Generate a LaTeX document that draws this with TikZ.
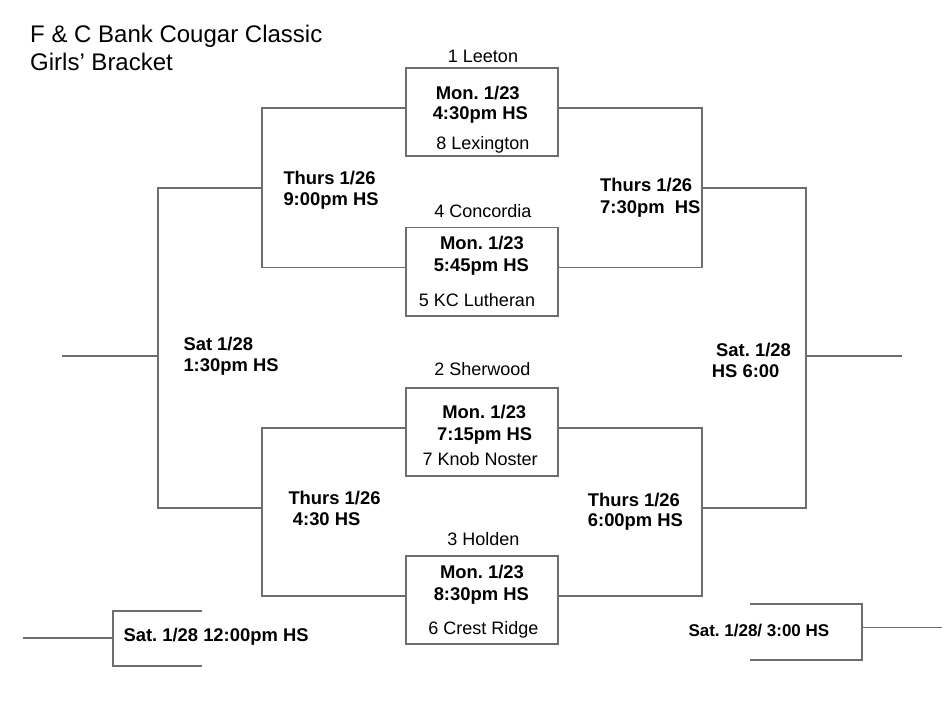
\documentclass[tikz,border=0pt]{standalone}
\usepackage{fontspec}
\setmainfont{Liberation Sans}
\frenchspacing
\begin{document}
\begin{tikzpicture}[x=1pt,y=-1pt,
                    bracket/.style={draw=black!57,line width=1.6pt},
                    game node/.style={rectangle,draw=black!57,line width=1.6pt,minimum width=152pt,minimum height=88pt,inner sep=0pt},
                    team node/.style={anchor=base,inner sep=0pt,font=\fontsize{18}{21}\selectfont},
                    time node/.style={anchor=base,inner sep=0pt,font=\fontsize{18.4}{22}\selectfont\bfseries},
                    round node/.style={anchor=base west,inner sep=0pt,font=\fontsize{18.4}{22}\selectfont\bfseries}
                   ]
  \useasboundingbox (0,0) rectangle (952,708);
  % title
  \node[anchor=base west,inner sep=0pt,font=\fontsize{24}{28}\selectfont] (title1) at (30,42.7) {F \& C Bank Cougar Classic};
  \node[anchor=base west,inner sep=0pt,font=\fontsize{24}{28}\selectfont] (title2) at (30,71) {Girls’ Bracket};
  % first round games
  \node[game node] (g1) at (481.7,112.2) {};
  \node[game node] (g2) at (481.7,271.7) {};
  \node[game node] (g3) at (481.7,431.7) {};
  \node[game node] (g4) at (481.7,599.8) {};
  \node[team node] (t1) at (483,62.3) {1 Leeton};
  \node[time node] (d1) at (477.8,100) {Mon. 1/23};
  \node[time node] (h1) at (480.3,120) {4:30pm HS};
  \node[team node] (t8) at (482.8,150) {8 Lexington};
  \node[team node] (t4) at (483,217.7) {4 Concordia};
  \node[time node] (d2) at (482,250) {Mon. 1/23};
  \node[time node] (h2) at (481.3,271.7) {5:45pm HS};
  \node[team node] (t5) at (477,306) {5 KC Lutheran};
  \node[team node] (t2) at (482.5,375) {2 Sherwood};
  \node[time node] (d3) at (484.3,418.3) {Mon. 1/23};
  \node[time node] (h3) at (484.7,440.7) {7:15pm HS};
  \node[team node] (t7) at (480.2,465.7) {7 Knob Noster};
  \node[team node] (t3) at (483.3,545.7) {3 Holden};
  \node[time node] (d4) at (482,578.3) {Mon. 1/23};
  \node[time node] (h4) at (481.3,600) {8:30pm HS};
  \node[team node] (t6) at (483.3,634) {6 Crest Ridge};
  % bracket joints
  \coordinate (s1) at (262,188);
  \coordinate (s2) at (262,508);
  \coordinate (s3) at (702,188);
  \coordinate (s4) at (702,508);
  \coordinate (f1) at (158,355.7);
  \coordinate (f2) at (806,355.7);
  \coordinate (w1) at (62,355.7);
  \coordinate (w2) at (902,355.7);
  \coordinate (c1) at (113,638);
  \coordinate (c1t) at (202,611);
  \coordinate (c1b) at (202,666);
  \coordinate (c1o) at (23,638);
  \coordinate (c2) at (862,627.3);
  \coordinate (c2t) at (750,604);
  \coordinate (c2b) at (750,660);
  \coordinate (c2o) at (942,627.3);
  \path[bracket]
    ([yshift=4pt]g1.west) -| (s1) |- ([yshift=4pt]g2.west)
    ([yshift=4pt]g3.west) -| (s2) |- ([yshift=4pt]g4.west)
    ([yshift=4pt]g1.east) -| (s3) |- ([yshift=4pt]g2.east)
    ([yshift=4pt]g3.east) -| (s4) |- ([yshift=4pt]g4.east)
    (s1) -| (f1) |- (s2)
    (s3) -| (f2) |- (s4)
    (f1) -- (w1)
    (f2) -- (w2)
    (c1t) -| (c1) |- (c1b)
    (c1) -- (c1o)
    (c2t) -| (c2) |- (c2b)
    (c2) -- (c2o);
  % round labels
  \node[round node] (r1a) at (283.3,184.3) {Thurs 1/26};
  \node[round node] (r1b) at (283.3,205.7) {9:00pm HS};
  \node[round node] (r2a) at (600,191.7) {Thurs 1/26};
  \node[round node] (r2b) at (600,214) {7:30pm\ \ HS};
  \node[round node] (r3a) at (288.3,504) {Thurs 1/26};
  \node[round node] (r3b) at (292.7,525) {4:30 HS};
  \node[round node] (r4a) at (587.7,506) {Thurs 1/26};
  \node[round node] (r4b) at (587.7,526.7) {6:00pm HS};
  \node[round node] (r5a) at (183.3,350) {Sat 1/28};
  \node[round node] (r5b) at (183.3,371.7) {1:30pm HS};
  \node[round node] (r6a) at (716,356.7) {Sat. 1/28};
  \node[round node] (r6b) at (711.7,377.7) {HS 6:00};
  \node[round node] (r7) at (123.3,641.7) {Sat. 1/28 12:00pm HS};
  \node[round node,font=\fontsize{17}{21}\selectfont\bfseries] (r8) at (688.3,636.7) {Sat. 1/28/ 3:00 HS};
\end{tikzpicture}
\end{document}
